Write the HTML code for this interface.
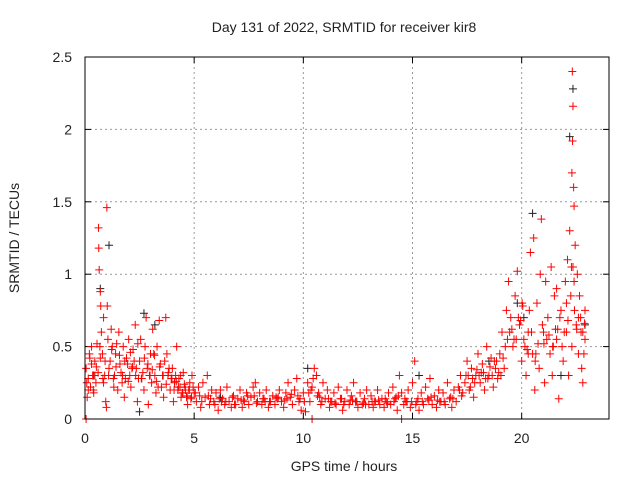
<!DOCTYPE html>
<html><head><meta charset="utf-8"><style>
html,body{margin:0;padding:0;background:#fff}
svg{display:block;font-family:"Liberation Sans",sans-serif}
</style></head><body>
<svg id="chart" width="640" height="480" viewBox="0 0 640 480" xmlns="http://www.w3.org/2000/svg">
<rect width="640" height="480" fill="#fff"/>
<text x="344" y="32" text-anchor="middle" font-size="14" fill="#222">Day 131 of 2022, SRMTID for receiver kir8</text>
<text x="344" y="471" text-anchor="middle" font-size="14" fill="#222">GPS time / hours</text>
<text transform="translate(19,238) rotate(-90)" text-anchor="middle" font-size="14" fill="#222">SRMTID / TECUs</text>
<g id="grid"></g>
<g id="ticks"></g>
<g id="black"></g>
<g id="red"></g>
<rect x="85" y="57" width="524" height="362" fill="none" stroke="#000" stroke-width="1"/>
</svg>
<script>
const xTicks=[0,5,10,15,20];
const yTicks=[0,0.5,1,1.5,2,2.5];
const yTickLabels=["0","0.5","1","1.5","2","2.5"];
const redX=[0.05,0.1,0.15,0.2,0.25,0.3,0.35,0.4,0.45,0.5,0.55,0.6,0.62,0.63,0.65,0.7,0.72,0.75,0.8,0.85,0.9,0.95,1.0,1.02,1.05,0.98,0.05,
1.1,1.2,1.25,1.3,1.4,1.5,1.55,1.6,1.7,1.75,1.8,1.9,2.0,2.05,2.1,2.2,2.3,2.35,2.4,2.5,2.6,2.7,2.75,2.8,2.85,2.9,3.0,3.05,3.1,3.2,3.25,3.3,3.4,3.45,3.5,3.6,3.7,3.75,3.8,3.9,4.0,4.05,4.1,4.2,4.3,4.4,4.5,4.6,4.7,4.8,4.9,5.0,
0.15,0.3,0.45,0.7,0.85,1.15,1.35,1.45,1.65,1.85,1.95,2.15,2.25,2.45,2.55,2.65,2.95,3.15,3.35,3.55,3.65,3.85,3.95,4.15,4.25,4.35,4.45,4.55,4.65,4.75,4.85,4.95,
0.08,0.22,0.38,0.52,0.68,0.82,0.92,1.08,1.22,1.32,1.42,1.58,1.72,1.82,1.98,2.08,2.18,2.32,2.42,2.58,2.72,2.88,2.98,3.08,3.18,3.28,3.42,3.58,3.72,3.82,3.98,4.08,4.18,4.28,4.38,4.48,4.58,4.68,4.78,4.88,
5.1,5.2,5.3,5.4,5.5,5.6,5.7,5.8,5.9,6.0,6.1,6.2,6.3,6.4,6.5,6.6,6.7,6.8,6.9,7.0,7.1,7.2,7.3,7.4,7.5,7.6,7.7,7.8,7.9,8.0,8.1,8.2,8.3,8.4,8.5,8.6,8.7,8.8,8.9,9.0,9.1,9.2,9.3,9.4,9.5,9.6,9.7,9.8,9.9,10.0,10.1,10.2,10.3,10.4,10.5,10.6,10.7,10.8,10.9,11.0,11.1,11.2,11.3,11.4,11.5,11.6,11.7,11.8,11.9,12.0,12.1,12.2,12.3,12.4,12.5,12.6,12.7,12.8,12.9,13.0,13.1,13.2,13.3,13.4,13.5,13.6,13.7,13.8,13.9,14.0,14.1,14.2,14.3,14.4,14.5,14.6,14.7,14.8,14.9,15.0,15.1,15.2,15.3,15.4,15.5,15.6,15.7,15.8,15.9,16.0,16.1,16.2,16.3,16.4,16.5,16.6,16.7,16.8,16.9,17.0,17.1,17.2,17.3,10.4,14.5,
5.25,5.75,6.25,6.75,7.25,7.75,8.25,8.75,9.25,9.75,10.25,10.75,11.25,11.75,12.25,12.75,13.25,13.75,14.25,14.75,15.25,15.75,16.25,16.75,17.25,
5.05,5.35,5.65,5.95,6.15,6.45,6.85,7.15,7.45,7.85,8.15,8.45,8.85,9.15,9.45,9.85,10.05,10.35,10.45,10.65,10.85,11.15,11.45,11.85,12.15,12.45,12.85,13.15,13.45,13.85,14.15,14.35,14.65,14.95,15.15,15.45,15.85,16.15,16.45,16.85,17.15,
17.4,17.5,17.6,17.7,17.8,17.9,18.0,18.1,18.2,18.3,18.4,18.5,18.6,18.7,18.8,18.9,19.0,19.1,19.2,19.3,19.35,17.55,17.85,18.15,18.45,18.75,19.05,
17.45,17.65,17.75,17.95,18.05,18.25,18.35,18.55,18.65,18.85,18.95,19.15,19.25,
19.4,19.5,19.6,19.7,19.8,19.9,20.0,20.05,20.1,20.2,20.3,20.4,20.5,20.55,20.6,20.7,20.8,20.85,20.9,21.0,21.05,21.1,21.2,21.3,21.35,21.4,21.5,21.6,21.7,21.8,21.9,22.0,22.05,22.1,22.15,22.2,22.25,22.3,22.32,22.35,22.33,22.38,22.4,22.45,22.5,22.55,22.6,22.65,22.7,22.75,22.8,22.85,22.9,22.3,22.4,21.6,20.3,
19.45,19.65,19.85,20.15,20.35,20.65,20.95,21.15,21.45,21.75,21.95,22.05,22.35,22.6,22.8,22.9,
19.55,19.75,19.95,20.25,20.45,20.75,21.25,21.55,21.85,22.12,22.42,22.52,22.72,22.88,20.02,20.62,21.02,21.42,21.65,22.28];
const redY=[0.35,0.15,0.28,0.45,0.22,0.5,0.3,0.18,0.4,0.25,0.52,0.32,1.32,1.18,1.03,0.88,0.78,0.6,0.45,0.7,0.3,0.12,1.46,0.78,0.55,0.08,0.0,
0.35,0.62,0.5,0.28,0.45,0.2,0.6,0.38,0.25,0.5,0.15,0.42,0.55,0.3,0.22,0.48,0.65,0.35,0.12,0.4,0.28,0.2,0.5,0.7,0.35,0.1,0.45,0.25,0.62,0.3,0.18,0.5,0.68,0.38,0.22,0.15,0.7,0.45,0.3,0.2,0.35,0.12,0.25,0.5,0.28,0.15,0.32,0.2,0.1,0.25,0.3,0.18,
0.2,0.38,0.3,0.42,0.25,0.4,0.3,0.52,0.32,0.28,0.38,0.35,0.4,0.28,0.55,0.32,0.3,0.45,0.22,0.3,0.4,0.35,0.28,0.3,0.2,0.22,0.18,0.24,0.15,0.2,0.14,0.22,
0.25,0.42,0.2,0.36,0.5,0.28,0.4,0.3,0.48,0.22,0.36,0.44,0.3,0.4,0.26,0.46,0.36,0.3,0.52,0.28,0.42,0.38,0.3,0.34,0.44,0.26,0.36,0.3,0.24,0.32,0.28,0.2,0.26,0.22,0.3,0.18,0.22,0.16,0.2,0.15,
0.12,0.22,0.08,0.25,0.15,0.3,0.1,0.2,0.12,0.18,0.06,0.2,0.14,0.1,0.22,0.12,0.08,0.16,0.1,0.14,0.2,0.08,0.12,0.18,0.1,0.15,0.22,0.25,0.12,0.18,0.1,0.14,0.2,0.08,0.12,0.16,0.1,0.14,0.2,0.12,0.08,0.18,0.25,0.15,0.1,0.2,0.28,0.12,0.06,0.18,0.05,0.25,0.12,0.22,0.35,0.3,0.18,0.1,0.25,0.14,0.2,0.08,0.12,0.18,0.1,0.22,0.14,0.06,0.12,0.2,0.1,0.16,0.25,0.12,0.08,0.18,0.1,0.14,0.2,0.1,0.16,0.08,0.12,0.2,0.1,0.14,0.08,0.12,0.18,0.1,0.22,0.14,0.06,0.3,0.18,0.1,0.12,0.2,0.08,0.25,0.4,0.12,0.06,0.18,0.1,0.22,0.14,0.28,0.1,0.16,0.08,0.2,0.12,0.18,0.1,0.25,0.14,0.08,0.2,0.12,0.22,0.3,0.18,0.0,0.0,
0.16,0.14,0.12,0.15,0.13,0.16,0.12,0.15,0.14,0.16,0.18,0.15,0.12,0.14,0.13,0.11,0.12,0.14,0.15,0.12,0.14,0.13,0.12,0.15,0.16,
0.18,0.12,0.16,0.1,0.14,0.12,0.1,0.13,0.16,0.11,0.14,0.12,0.15,0.13,0.17,0.14,0.12,0.2,0.28,0.16,0.12,0.14,0.11,0.1,0.13,0.12,0.1,0.12,0.13,0.11,0.12,0.16,0.14,0.12,0.1,0.12,0.15,0.13,0.12,0.14,0.2,
0.25,0.4,0.2,0.35,0.15,0.3,0.45,0.25,0.38,0.2,0.5,0.3,0.42,0.22,0.35,0.28,0.45,0.6,0.35,0.75,0.55,0.3,0.25,0.32,0.28,0.4,0.3,
0.3,0.22,0.28,0.34,0.3,0.32,0.28,0.36,0.3,0.4,0.32,0.42,0.5,
0.95,0.7,0.5,0.85,1.02,0.65,0.4,0.78,0.55,0.3,0.6,1.15,0.45,1.25,0.2,0.8,0.35,1.0,1.38,0.6,0.25,0.95,0.7,0.45,1.05,0.3,0.85,0.55,0.14,0.75,0.4,0.95,0.6,1.1,0.3,1.3,0.85,1.7,2.4,2.16,1.92,1.6,1.47,1.2,0.65,1.0,0.45,0.85,0.7,0.35,0.25,0.45,0.75,0.5,0.95,0.9,0.45,
0.6,0.55,0.7,0.5,0.75,0.45,0.65,0.55,0.5,0.7,0.6,0.8,1.05,0.7,0.6,0.55,
0.62,0.55,0.68,0.48,0.6,0.52,0.58,0.62,0.5,0.68,0.75,0.62,0.6,0.66,0.8,0.4,0.52,0.5,0.62,1.05];
const blackX=[0.7,1.1,2.7,3.2,20.5,22.35,22.2,21.8,10.2,15.3,2.5,18.5,20.1,22.9,0.4,6.2,12.4,19.8];
const blackY=[0.9,1.2,0.73,0.65,1.42,2.28,1.95,0.3,0.35,0.3,0.05,0.4,0.7,0.65,0.3,0.15,0.12,0.8];

const X0=85,X1=609,Y0=419,Y1=57,XMAX=24,YMAX=2.5;
function sx(v){return X0+(v/XMAX)*(X1-X0);}
function sy(v){return Y0-(v/YMAX)*(Y0-Y1);}
const NS="http://www.w3.org/2000/svg";
const grid=document.getElementById('grid'),ticks=document.getElementById('ticks');
function mk(tag,attrs,parent){const e=document.createElementNS(NS,tag);for(const k in attrs)e.setAttribute(k,attrs[k]);parent.appendChild(e);return e;}
xTicks.forEach(t=>{
  const x=sx(t);
  if(t>0){const g=mk('line',{x1:x,y1:Y1,x2:x,y2:Y0,stroke:'#999','stroke-dasharray':'2,3'},grid);
  
  }
  mk('line',{x1:x,y1:Y0,x2:x,y2:Y0-6,stroke:'#000'},ticks);
  mk('line',{x1:x,y1:Y1,x2:x,y2:Y1+6,stroke:'#000'},ticks);
  const l=mk('text',{x:x,y:443,'text-anchor':'middle','font-size':'14',fill:'#222'},ticks);
  l.textContent=String(t);
  
  
});
yTicks.forEach((t,i)=>{
  const y=sy(t);
  if(t>0&&t<YMAX){const g=mk('line',{x1:X0,y1:y,x2:X1,y2:y,stroke:'#999','stroke-dasharray':'2,3'},grid);
  
  }
  mk('line',{x1:X0,y1:y,x2:X0+6,y2:y,stroke:'#000'},ticks);
  mk('line',{x1:X1,y1:y,x2:X1-6,y2:y,stroke:'#000'},ticks);
  const l=mk('text',{x:72,y:y+5,'text-anchor':'end','font-size':'14',fill:'#222'},ticks);
  l.textContent=yTickLabels[i];
  
  
});
function plus(parent,xs,ys,color,name){
  for(let i=0;i<xs.length;i++){
    const x=sx(xs[i]),y=sy(ys[i]);
    const p=mk('path',{d:`M${x-4} ${y}H${x+4}M${x} ${y-4}V${y+4}`,stroke:color,'stroke-width':'1',fill:'none'},parent);
    
    
  }
}
plus(document.getElementById('black'),blackX,blackY,'#222','black-point');
plus(document.getElementById('red'),redX,redY,'#f00','red-point');
</script>
</body></html>
